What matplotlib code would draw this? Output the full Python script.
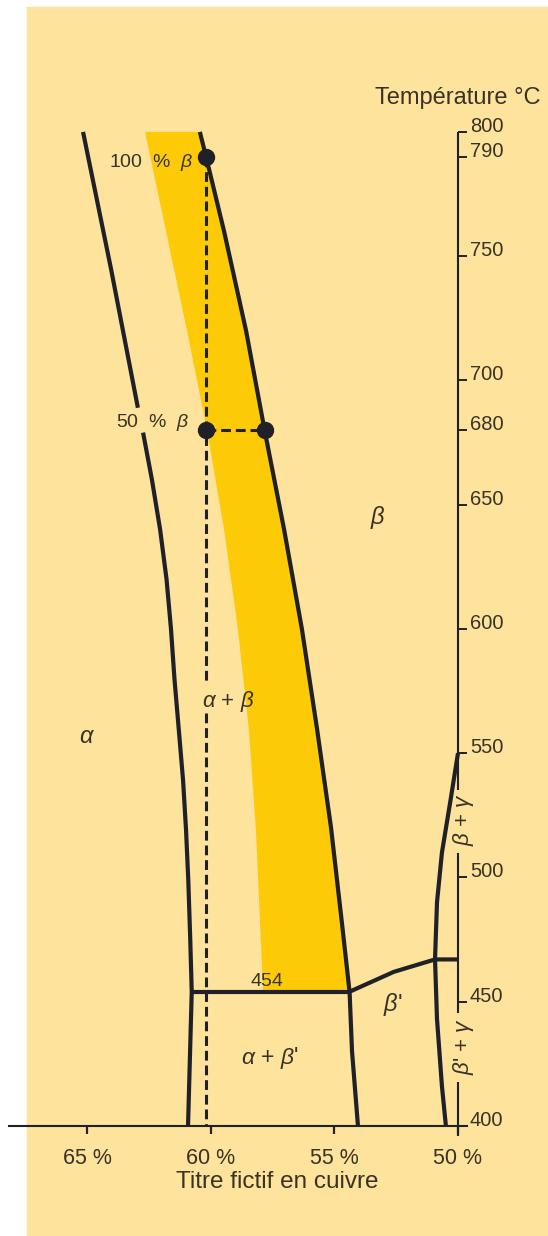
import matplotlib
matplotlib.use("Agg")
from matplotlib import pyplot as plt
from matplotlib.patches import Rectangle

plt.rcParams['font.family'] = ['Liberation Sans', 'DejaVu Sans']
plt.rcParams['mathtext.fontset'] = 'custom'
plt.rcParams['mathtext.rm'] = 'Liberation Sans'
plt.rcParams['mathtext.it'] = 'Liberation Sans:italic'
plt.rcParams['mathtext.bf'] = 'Liberation Sans:bold'

### values: copper title (%) and temperature (degC)
alpha_top_cu = [65.18, 64.05, 62.96]
alpha_top_t = [800, 745, 689]
alpha_cu = [62.75, 62.39, 62.06, 61.80, 61.62, 61.48, 61.30, 61.13, 61.01, 60.92, 60.84, 60.78, 60.93]
alpha_t = [679, 660, 640, 620, 600, 580, 559, 539, 519, 499, 475, 454, 400]

beta_cu = [60.45, 60.20, 59.47, 58.58, 57.83, 57.04, 56.32, 55.71, 55.14, 54.68, 54.39, 54.29, 54.05]
beta_t = [800, 790, 760, 720, 680, 640, 600, 560, 520, 480, 454, 430, 400]

band_left_cu = [62.67, 61.82, 60.97, 60.16, 59.47, 58.91, 58.46, 58.18, 58.00, 57.89]
band_left_t = [800, 760, 720, 680, 640, 600, 559, 519, 479, 454]

eutectoid_cu = [60.78, 54.39]
eutectoid_t = [454, 454]

bprime_cu = [54.39, 52.6, 50.93, 50.0]
bprime_t = [454, 462, 467, 467]

gamma_cu = [50.0, 50.32, 50.65, 50.85, 50.93, 50.85, 50.65, 50.49]
gamma_t = [550, 530, 510, 490, 467, 443, 416, 400]

dots_cu = [60.2, 60.2, 57.83]
dots_t = [790, 680, 680]

axis_segments = [(800, 535), (510, 445.5), (417.7, 396)]
t_ticks = [400, 450, 500, 550, 600, 650, 680, 700, 750, 790, 800]
cu_ticks = [65, 60, 55, 50]
cu_labels = ['65 %', '60 %', '55 %', '50 %']

line_col = '#202028'
text_col = '#3a3226'
pale = '#fde39c'
band_col = '#fcca06'

fig = plt.figure(figsize=(5.48, 12.36), dpi=100)
fig.patches.append(Rectangle((27 / 548, 0), 1 - 27 / 548, 1229 / 1236,
                             transform=fig.transFigure, color=pale, zorder=-5))
ax = fig.add_axes([0, 0, 1, 1])
ax.set_facecolor('none')
ax.set_zorder(1)
ax.set_xlim(68.5425, 46.356)
ax.set_ylim(355.7, 853.1)

# yellow band
band_x = band_left_cu + beta_cu[:11][::-1]
band_y = band_left_t + beta_t[:11][::-1]
ax.fill(band_x, band_y, color=band_col, lw=0, zorder=1)

# phase boundaries
lw = 3.0
for xs, ys in [(alpha_top_cu, alpha_top_t), (alpha_cu, alpha_t), (beta_cu, beta_t),
               (eutectoid_cu, eutectoid_t), (bprime_cu, bprime_t), (gamma_cu, gamma_t)]:
    ax.plot(xs, ys, color=line_col, lw=lw, solid_capstyle='butt',
            solid_joinstyle='round', zorder=3)

# dashed construction lines
dash = dict(color=line_col, lw=2.2, dashes=(3.2, 1.6), zorder=3)
ax.plot([dots_cu[0], dots_cu[0]], [dots_t[0], 577.5], **dash)
ax.plot([dots_cu[0], dots_cu[0]], [566, 400], **dash)
ax.plot(dots_cu[1:], dots_t[1:], **dash)
ax.plot(dots_cu, dots_t, 'o', color=line_col, ms=11.5, zorder=4)

# temperature axis with gaps for the rotated labels
for top, bot in axis_segments:
    ax.plot([50, 50], [top, bot], color=line_col, lw=1.5, solid_capstyle='butt', zorder=3)

for s in ['left', 'top', 'right']:
    ax.spines[s].set_visible(False)
ax.spines['right'].set_position(('data', 50))
ax.yaxis.set_ticks_position('right')
ax.set_yticks(t_ticks)
ax.tick_params(axis='y', direction='out', length=6.5, width=1.4, color=line_col,
               labelright=False, labelleft=False)
for t in t_ticks:
    ax.text(49.52, t, str(t), ha='left', va='baseline', fontsize=14.5, color=text_col)

ax.spines['bottom'].set_position(('data', 400))
ax.spines['bottom'].set_bounds(68.18, 49.64)
ax.spines['bottom'].set_linewidth(1.5)
ax.spines['bottom'].set_color(line_col)
ax.set_xticks(cu_ticks, cu_labels)
ax.tick_params(axis='x', direction='out', length=5.8, width=1.6, color=line_col,
               pad=10, labelsize=15.5, labelcolor=text_col)

ax.text(57.33, 377.3, 'Titre fictif en cuivre', ha='center', va='center',
        fontsize=17.5, color=text_col)
ax.text(50.0, 813.7, 'Température °C', ha='center', va='center',
        fontsize=17, color=text_col)

# region labels
fs = 16
ax.text(60.73, 787.9, r'100  %  $\beta$', ha='right', va='center', fontsize=14, color=text_col)
ax.text(60.89, 682.9, r'50  %  $\beta$', ha='right', va='center', fontsize=14, color=text_col)
ax.text(53.24, 645, r'$\beta$', ha='center', va='center', fontsize=fs + 1, color=text_col)
ax.text(59.31, 570.6, r'$\alpha$ + $\beta$', ha='center', va='center', fontsize=fs, color=text_col)
ax.text(65.02, 556.5, r'$\alpha$', ha='center', va='center', fontsize=fs + 1, color=text_col)
ax.text(57.73, 458, '454', ha='center', va='center', fontsize=14, color=text_col)
ax.text(57.61, 427.4, r"$\alpha$ + $\beta$'", ha='center', va='center', fontsize=fs + 0.5, color=text_col)
ax.text(52.63, 448.7, r"$\beta$'", ha='center', va='center', fontsize=fs + 1, color=text_col)
ax.text(49.78, 523.1, r'$\beta$ + $\gamma$', ha='center', va='center', rotation=90,
        fontsize=fs, color=text_col)
ax.text(49.78, 431.8, r"$\beta$' + $\gamma$", ha='center', va='center', rotation=90,
        fontsize=fs, color=text_col)

plt.savefig('out.png', dpi=100)
plt.close()
